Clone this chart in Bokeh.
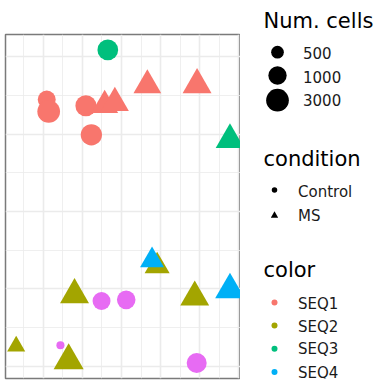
import numpy as np
from bokeh.plotting import figure
from bokeh.layouts import row
from bokeh.models import ColumnDataSource, Grid, FixedTicker, Range1d, Label, Title
from bokeh.embed import file_html
from bokeh.resources import INLINE

# ---------------- data ----------------
sample_color = ["SEQ1", "SEQ1", "SEQ1", "SEQ1", "SEQ1", "SEQ1", "SEQ1", "SEQ1",
                "SEQ2", "SEQ2", "SEQ2", "SEQ2", "SEQ2",
                "SEQ3", "SEQ3",
                "SEQ4", "SEQ4",
                "SEQ5", "SEQ5", "SEQ5", "SEQ5"]
condition = ["Control", "Control", "Control", "Control", "MS", "MS", "MS", "MS",
             "MS", "MS", "MS", "MS", "MS",
             "Control", "MS",
             "MS", "MS",
             "Control", "Control", "Control", "Control"]
dim1 = [0.09, 0.14, 1.09, 1.23, 2.66, 3.93, 1.57, 1.83,
        2.91, 0.80, 3.87, -0.69, 0.65,
        1.65, 4.77,
        2.78, 4.77,
        1.49, 2.12, 0.44, 3.92]
dim2 = [6.89, 6.58, 6.73, 5.98, 7.26, 7.27, 6.74, 6.80,
        2.59, 1.85, 1.79, 0.52, 0.15,
        8.17, 5.85,
        2.74, 1.98,
        1.69, 1.72, 0.55, 0.09]
num_cells = [960, 3000, 1950, 2100, 1780, 2220, 1530, 1870,
             1080, 2220, 2220, 550, 2720,
             1820, 2060,
             940, 2520,
             960, 1070, 120, 1530]

size_breaks = [500, 1000, 3000]
color_levels = ["SEQ1", "SEQ2", "SEQ3", "SEQ4"]
condition_levels = ["Control", "MS"]

palette = {"SEQ1": "#F8766D", "SEQ2": "#A3A500", "SEQ3": "#00BF7D",
           "SEQ4": "#00B0F6", "SEQ5": "#E76BF3"}
marker_map = {"Control": "circle", "MS": "triangle"}

# size scale (cells -> point diameter, px)
_scale_cells = np.log10([100, 500, 1000, 3000, 4000])
_scale_diam = [7.5, 12.7, 18.3, 22.7, 23.5]


def cell_size(n):
    return np.interp(np.log10(n), _scale_cells, _scale_diam)


TRI = 1.347  # equal-area triangle width factor

FONT = "DejaVu Sans"

# ---------------- main panel ----------------
sizes = [float(cell_size(n)) * (TRI if c == "MS" else 1.0)
         for n, c in zip(num_cells, condition)]
src = ColumnDataSource(dict(
    x=dim1, y=dim2, size=sizes,
    color=[palette[s] for s in sample_color],
    marker=[marker_map[c] for c in condition],
))

p = figure(width=240, height=384, output_backend="svg", toolbar_location=None,
           x_axis_type=None, y_axis_type=None,
           x_range=Range1d(-0.963, 5.039), y_range=Range1d(-0.31, 8.568),
           min_border_left=5, min_border_right=0, min_border_top=34,
           min_border_bottom=6)
p.background_fill_color = "white"
p.border_fill_color = "white"
p.outline_line_color = "#7a7a7a"
p.outline_line_width = 1.5

gx = Grid(dimension=0, ticker=FixedTicker(ticks=[0, 1, 2, 3, 4, 5],
                                          minor_ticks=[-0.5, 0.5, 1.5, 2.5, 3.5, 4.5]),
          grid_line_color="#EBEBEB", grid_line_width=1.6,
          minor_grid_line_color="#EBEBEB", minor_grid_line_width=0.8)
gy = Grid(dimension=1, ticker=FixedTicker(ticks=[0, 2, 4, 6, 8],
                                          minor_ticks=[1, 3, 5, 7]),
          grid_line_color="#EBEBEB", grid_line_width=1.6,
          minor_grid_line_color="#EBEBEB", minor_grid_line_width=0.8)
p.add_layout(gx)
p.add_layout(gy)

p.scatter("x", "y", size="size", marker="marker", fill_color="color",
          line_color=None, source=src)

# ---------------- legends ----------------
leg = figure(width=144, height=384, output_backend="svg", toolbar_location=None,
             x_axis_type=None, y_axis_type=None,
             x_range=Range1d(240, 384), y_range=Range1d(378, 34),
             min_border_left=0, min_border_right=0, min_border_top=34,
             min_border_bottom=6, outline_line_color=None)
leg.grid.visible = False
leg.background_fill_color = "white"
leg.border_fill_color = "white"

TITLE_PX = "21px"
LAB_PX = "15px"


def add_text(x, y, txt, size, color):
    leg.add_layout(Label(x=x, y=y, text=txt, text_font=FONT, text_font_size=size,
                         text_color=color, text_baseline="middle", text_align="left"))


# Num. cells (title sits above the legend frame)
leg.add_layout(Title(text="Num. cells", align="left", offset=23, standoff=3,
                     text_font=FONT, text_font_size=TITLE_PX,
                     text_font_style="normal", text_color="black"), "above")
ys = [51.7, 75.0, 99.7]
leg.scatter(x=[277] * 3, y=ys, size=[float(cell_size(b)) for b in size_breaks],
            marker="circle", fill_color="black", line_color=None)
for y, b in zip([52.1, 76.1, 99.5], size_breaks):
    add_text(302.5, y, str(b), LAB_PX, "#1a1a1a")

# condition
add_text(263, 158.8, "condition", TITLE_PX, "black")
cy = [189.5, 215.0]
leg.scatter(x=[274] * 2, y=cy, size=[5.5, 5.5 * TRI],
            marker=[marker_map[c] for c in condition_levels],
            fill_color="black", line_color=None)
for y, c in zip([191.5, 215.3], condition_levels):
    add_text(297.5, y, c, LAB_PX, "#1a1a1a")

# color
add_text(263, 269.4, "color", TITLE_PX, "black")
ky = [302.0, 325.0, 348.3, 371.5]
leg.scatter(x=[274] * 4, y=ky, size=6, marker="circle",
            fill_color=[palette[c] for c in color_levels], line_color=None)
for y, c in zip([303.1, 326.5, 348.8, 372.1], color_levels):
    add_text(297.5, y, c, LAB_PX, "#1a1a1a")

layout = row(p, leg, spacing=0)

open("out.html", "w").write(file_html(layout, INLINE))
